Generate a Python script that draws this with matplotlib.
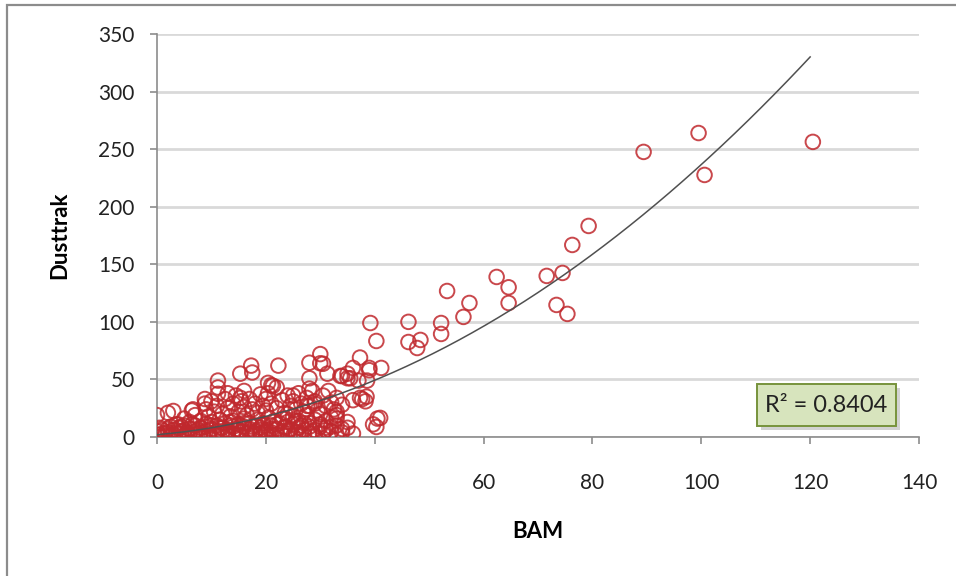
import matplotlib
matplotlib.use("Agg")
import matplotlib.pyplot as plt
from matplotlib.patches import Rectangle
import numpy as np

# ---- data ----
bam_low = [0, 0, 0.5, 1, 1, 1.5, 2, 2.5, 3, 3, 3.5, 4, 4, 4.5, 5, 5, 5.5, 6, 6, 6.5, 7, 7, 7.5, 8, 8, 8.5,
           9, 9, 9.5, 10, 10, 10.5, 11, 11, 11.5, 12, 12, 12.5, 13, 13, 13.5, 14, 14, 14.5, 15, 15, 15.5,
           16, 16, 16.5, 17, 17, 17.5, 18, 18, 18.5, 19, 19, 19.5, 20, 20, 20.5, 21, 21, 21.5, 22, 22, 22.5,
           23, 23, 23.5, 24, 24, 24.5, 25, 25, 25.5, 26, 26, 27, 27, 27.5, 28, 28, 29, 29, 30, 30, 31, 31,
           32, 32, 33, 33, 34, 35]
dust_low = [2, 5, 8, 3, 6, 1, 4, 9, 2, 6, 11, 3, 8, 5, 1, 10, 4, 7, 13, 2, 5, 10, 3, 8, 14, 1,
            5, 11, 3, 7, 13, 2, 5, 10, 15, 3, 8, 12, 1, 6, 10, 3, 14, 7, 2, 11, 5,
            9, 16, 3, 7, 12, 1, 5, 10, 15, 3, 8, 12, 2, 6, 17, 4, 10, 14, 2, 7, 12,
            5, 16, 9, 3, 13, 7, 11, 18, 4, 8, 14, 6, 12, 19, 3, 9, 15, 6, 11, 20, 8, 14,
            5, 17, 10, 22, 7, 13]

bam_low2 = [0.5, 1.5, 2, 2.5, 3.5, 4.5, 5, 6, 6.5, 7.5, 8, 9, 9.5, 10, 11, 11.5, 12, 13, 13.5, 14,
            15, 15.5, 16, 17, 17.5, 18, 19, 19.5, 20, 21, 21.5, 22, 23, 23.5, 24, 25, 25.5, 26, 26.5,
            27, 28, 28.5, 29, 30, 30.5, 31, 32, 33, 34, 35, 36]
dust_low2 = [0, 3, 7, 1, 4, 9, 6, 2, 11, 6, 4, 9, 1, 10, 2, 8, 5, 4, 13, 9,
             6, 1, 12, 4, 9, 3, 6, 10, 4, 7, 1, 11, 2, 8, 5, 1, 14, 4, 10,
             2, 12, 5, 1, 9, 3, 6, 9, 2, 4, 8, 3]

bam_mid = [0, 2, 3, 3.9, 5, 6.4, 6.6, 7, 8.8, 8.8, 9, 9.5, 10, 10.5, 11, 11.2, 11.2, 11.2, 12, 12.5, 13, 13,
           13.5, 14, 14.5, 15, 15.3, 15.3, 15.5, 16, 16, 16.5, 17, 17.3, 17.5, 17.5, 18, 18.5, 19, 19.5,
           20, 20, 20.4, 20.4, 21, 21, 21.3, 22, 22.3, 22, 23, 23.5, 24, 24, 24.5, 25, 25, 25.5, 26, 26.5,
           27, 27.5, 27.6, 28, 28, 28, 28, 28.5, 29, 29, 29.5, 30, 30, 30.5, 30.5, 31, 31.3, 31.5, 32, 32.5,
           33, 33, 33, 33.7, 34, 34, 35, 35, 35.5, 36, 36, 37, 37.3, 37.3, 37.7, 38.3, 38.5, 38.6, 39, 39,
           39.7, 40.3, 40.5, 41, 41.2]
dust_mid = [19, 21, 22.6, 11, 16, 23, 24, 19, 29, 33, 24, 18, 31, 22, 27, 37.5, 43, 49, 20, 33, 25, 38,
            18, 29, 36, 22, 55, 34, 31, 26, 40, 19, 33, 62, 56, 24, 29, 21, 37, 27,
            33, 23, 47, 38, 29, 45, 44.5, 25, 62, 43, 32, 21, 36, 20, 27, 31, 36, 24, 38, 29,
            22, 34, 27, 64.5, 27, 51, 42, 40, 31, 29, 23, 72, 64, 63.6, 36, 27, 55, 40, 30, 24,
            34, 19, 16, 53, 53, 28, 55, 51, 51, 32, 60, 49, 69, 34, 33, 31, 35, 49, 58, 60,
            11, 8.7, 16, 16.6, 60]

bam_high = [39.2, 46.2, 40.3, 46.2, 48.4, 47.8, 52.2, 52.2, 53.3, 57.4, 56.3, 62.4, 64.6, 64.6,
            71.6, 74.5, 73.4, 75.4, 76.3, 79.3, 89.4, 99.5, 100.6, 120.5]
dust_high = [99, 100, 83.4, 82.5, 84.3, 77.3, 99, 89.5, 126.8, 116.4, 104.3, 139, 130, 116.4,
             139.9, 142.5, 114.7, 106.9, 166.8, 183.3, 247.6, 264, 227.6, 256.3]

trend_coef = [0.0194, 0.406, 2.0]   # polynomial trendline, y = a x^2 + b x + c
trend_range = [0, 120]
r2_label = "R² = 0.8404"

x_ticks = [0, 20, 40, 60, 80, 100, 120, 140]
y_ticks = [0, 50, 100, 150, 200, 250, 300, 350]

bam = bam_low + bam_low2 + bam_mid + bam_high
dust = dust_low + dust_low2 + dust_mid + dust_high

# ---- figure ----
plt.rcParams['font.family'] = ['Lato', 'DejaVu Sans']
fig = plt.figure(figsize=(9.56, 5.76), dpi=100)
W, H = 956, 576
ax = fig.add_axes([157 / W, (576 - 437) / H, (919 - 157) / W, (437 - 34) / H])

# outer chart border
fig.patches.append(Rectangle((7 / W, -0.1), 1.2, 1.1 - 5 / H, transform=fig.transFigure,
                             fill=False, edgecolor='#8c8c8c', linewidth=1.6))

ax.scatter(bam, dust, s=110, facecolors='none', edgecolors='#c0282d', linewidths=1.4,
           alpha=0.85, zorder=3)

xt = np.linspace(trend_range[0], trend_range[1], 200)
yt = np.polyval(trend_coef, xt)
ax.plot(xt, yt, color='#505050', linewidth=1.1, zorder=4)

ax.set_xlim(0, 140)
ax.set_ylim(0, 350)
ax.set_xticks(x_ticks)
ax.set_yticks(y_ticks)
ax.yaxis.grid(True, color='#d9d9d9', linewidth=2)
ax.set_axisbelow(True)
for s in ['top', 'right']:
    ax.spines[s].set_visible(False)
for s in ['left', 'bottom']:
    ax.spines[s].set_color('#8c8c8c')
    ax.spines[s].set_linewidth(1.2)
ax.tick_params(axis='y', length=5, width=1.2, color='#8c8c8c', pad=11, labelsize=15,
               labelcolor='#222222')
ax.tick_params(axis='x', length=5, width=1.2, color='#8c8c8c', pad=21, labelsize=15,
               labelcolor='#222222')

ax.set_xlabel('BAM', fontsize=16, fontweight='bold', labelpad=20)
ax.set_ylabel('Dusttrak', fontsize=16, fontweight='bold', labelpad=20)

# R² box
bx0, by0, bx1, by1 = 757 / W, (576 - 426) / H, 896 / W, (576 - 384) / H
shadow = Rectangle((bx0 + 4 / W, by0 - 4 / H), bx1 - bx0, by1 - by0, transform=fig.transFigure,
                   facecolor='#bfbfbf', edgecolor='none', alpha=0.7, zorder=5)
box = Rectangle((bx0, by0), bx1 - bx0, by1 - by0, transform=fig.transFigure,
                facecolor='#d7e4bd', edgecolor='#77933c', linewidth=1.4, zorder=6)
fig.patches.append(shadow)
fig.patches.append(box)
fig.text((bx0 + bx1) / 2, (by0 + by1) / 2, r2_label, ha='center', va='center',
         fontsize=17, color='#222222', zorder=7)

fig.savefig('out.png', dpi=100)
